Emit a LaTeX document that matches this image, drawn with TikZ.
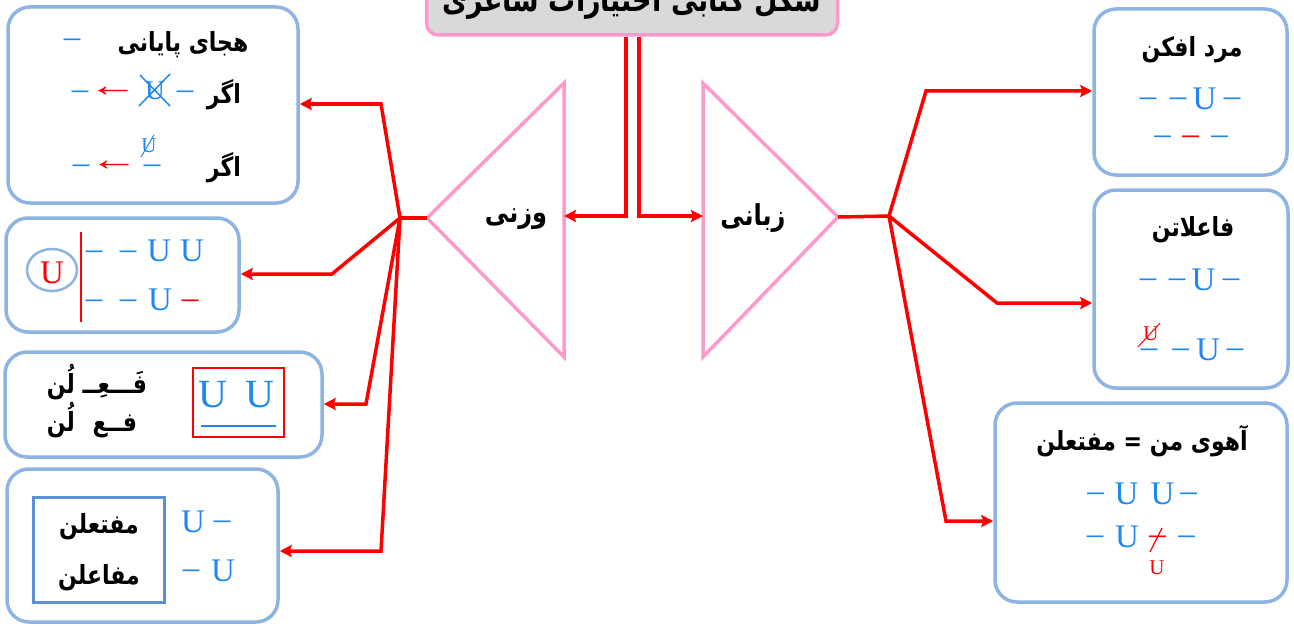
\documentclass[tikz,border=0pt]{standalone}
\usepackage{fontspec}
\setmainfont{Liberation Serif}
\newfontfamily\fa[Script=Arabic]{DejaVu Sans}
\TeXXeTstate=1
\usetikzlibrary{arrows.meta,shapes.geometric}
\definecolor{bbox}{HTML}{8DB4E2}
\definecolor{pinkc}{HTML}{FF99CC}
\definecolor{symb}{HTML}{1E88F0}
\definecolor{inbox}{HTML}{5B8FD6}
\definecolor{titlefill}{HTML}{D9D9D9}
\newcommand\sdash{\raisebox{0.11em}{–}\vphantom{U}}
\newcommand\fatext[1]{\scalebox{1}[1.2]{\fa\bfseries\beginR #1\endR}}
\newcommand\larr{\scalebox{1.5}[1]{←}}
\begin{document}
\begin{tikzpicture}[x=1pt,y=-1pt,
 box/.style={draw=bbox,line width=3.5pt,rounded corners=22pt,fill=white,inner sep=0pt},
 tri/.style={draw=pinkc,line width=3.5pt},
 conn/.style={draw=red,line width=3.5pt},
 arr/.style={conn,-{Stealth[length=12pt,width=12pt,inset=2pt]}},
 fat/.style={font=\fa\bfseries\fontsize{22}{26}\selectfont,inner sep=0pt},
 big/.style={font=\fa\bfseries\fontsize{24}{28}\selectfont,inner sep=0pt},
 ttl/.style={font=\fa\bfseries\fontsize{27}{32}\selectfont,inner sep=0pt,anchor=base},
 sy/.style={font=\fontsize{33}{33}\selectfont,text=symb,inner sep=0pt},
 sm/.style={font=\fontsize{21}{21}\selectfont,inner sep=0pt}
]
\useasboundingbox (0,0) rectangle (1294,626);

% title
\node[draw=pinkc,line width=3.5pt,fill=titlefill,rounded corners=12pt,minimum width=411pt,minimum height=70pt,inner sep=0pt] (title) at (632,0) {};
\node[ttl] (titletext) at (632,12) {\fatext{شکل کتابی اختیارات شاعری}};

% triangles
\coordinate (la) at (427,218); \coordinate (lb) at (564,83); \coordinate (lc) at (564,357);
\draw[tri] (la) -- (lb) -- (lc) -- cycle;
\node[big] (vazni) at (516,219) {\fatext{وزنی}};
\coordinate (ra) at (838,217); \coordinate (rb) at (703,83); \coordinate (rc) at (703,357);
\draw[tri] (ra) -- (rb) -- (rc) -- cycle;
\node[big] (zabani) at (753,218) {\fatext{زبانی}};
\coordinate (lm) at (564,216); \coordinate (rm) at (703,216);

\draw[arr] (title.south -| 626,0) -- (626,216) -- (lm);
\draw[arr] (title.south -| 639,0) -- (639,216) -- (rm);

% boxes
\node[box,minimum width=290pt,minimum height=196pt] (b1) at (153,105) {};
\node[box,minimum width=233pt,minimum height=114pt] (b2) at (122.5,275) {};
\node[box,minimum width=317pt,minimum height=105pt] (b3) at (163.5,404.5) {};
\node[box,minimum width=271pt,minimum height=153pt] (b4) at (142.5,545.5) {};
\node[box,minimum width=193pt,minimum height=166pt] (r1) at (1190.5,92) {};
\node[box,minimum width=194pt,minimum height=198pt] (r2) at (1191,289) {};
\node[box,minimum width=292pt,minimum height=199pt] (r3) at (1141,502.5) {};

% hubs and connectors
\coordinate (hl) at (400,218);
\draw[conn] (la) -- (hl);
\draw[arr] (hl) -- (381,104) -- (b1.east |- 0,104);
\draw[arr] (hl) -- (332,274) -- (b2.east |- 0,274);
\draw[arr] (hl) -- (366,404) -- (b3.east |- 0,404);
\draw[arr] (hl) -- (381,551) -- (b4.east |- 0,551);
\coordinate (hr) at (889,216);
\draw[conn] (ra) -- (hr);
\draw[arr] (hr) -- (926,91) -- (r1.west |- 0,91);
\draw[arr] (hr) -- (997,303) -- (r2.west |- 0,303);
\draw[arr] (hr) -- (946,521) -- (r3.west |- 0,521);

% box 1
\node[sy] (b1d0) at (72,40) {\sdash};
\node[fat] (b1t) at (183,45) {\fatext{هجای پایانی}};
\node[fat] (b1a1) at (224,95) {\fatext{اگر}};
\node[sy] (b1d1) at (185,92) {\sdash};
\node[sy,font=\fontsize{27}{27}\selectfont] (b1u) at (155,91) {U};
\draw[symb,line width=1.5pt] (140,75) -- (170,106) (170,74) -- (139,106);
\node[sy,text=red] (b1ar1) at (113,92) {\larr};
\node[sy] (b1d2) at (80,92) {\sdash};
\node[fat] (b1a2) at (224,168) {\fatext{اگر}};
\node[sy] (b1d3) at (152,166) {\sdash};
\node[sm,text=symb] (b1u2) at (149,146) {U};
\draw[symb,line width=1pt] (141,157) -- (154,135);
\node[sy,text=red] (b1ar2) at (114,166) {\larr};
\node[sy] (b1d4) at (81,166) {\sdash};

% box 2
\node[draw=bbox,line width=2.5pt,ellipse,minimum width=50pt,minimum height=42pt,inner sep=0pt] (b2c) at (52,270) {};
\node[sy,text=red] (b2u) at (52,273) {U};
\draw[red,line width=1.5pt] (81,232) -- (81,322);
\node[sy] (b2d1) at (94,252) {\sdash};
\node[sy] (b2d2) at (128,252) {\sdash};
\node[sy] (b2u1) at (159,251) {U};
\node[sy] (b2u2) at (192,251) {U};
\node[sy] (b2d3) at (94,301) {\sdash};
\node[sy] (b2d4) at (128,301) {\sdash};
\node[sy] (b2u3) at (160,300) {U};
\node[sy,text=red] (b2d5) at (190,301) {\sdash};

% box 3
\node[draw=red,line width=1.5pt,minimum width=91pt,minimum height=69pt,inner sep=0pt] (b3r) at (238.5,402.5) {};
\node[sy,font=\fontsize{40}{40}\selectfont] (b3u1) at (213,395) {U};
\node[sy,font=\fontsize{40}{40}\selectfont] (b3u2) at (260,395) {U};
\draw[symb,line width=2pt] (201,426) -- (276,426);
\node[fat] (b3l1) at (97,382) {\fatext{فَـــعِــ لُن}};
\node[fat] (b3l2) at (92,420) {\fatext{فــع\hspace{0.8em}لُن}};

% box 4
\node[draw=inbox,line width=3pt,minimum width=131pt,minimum height=105pt,inner sep=0pt] (b4r) at (98.5,549.5) {};
\node[fat] (b4t1) at (99,527) {\fatext{مفتعلن}};
\node[fat] (b4t2) at (99,578) {\fatext{مفاعلن}};
\node[sy] (b4u1) at (193,522) {U};
\node[sy] (b4d1) at (222,522) {\sdash};
\node[sy] (b4d2) at (191,571) {\sdash};
\node[sy] (b4u2) at (223,571) {U};

% right box 1
\node[fat] (r1t) at (1192,50) {\fatext{مرد افکن}};
\node[sy] (r1d1) at (1148,99) {\sdash};
\node[sy] (r1d2) at (1178,99) {\sdash};
\node[sy] (r1u1) at (1204.5,99) {U};
\node[sy] (r1d3) at (1232,99) {\sdash};
\node[sy] (r1d4) at (1162.5,137) {\sdash};
\node[sy,text=red] (r1d5) at (1190.5,137) {\sdash};
\node[sy] (r1d6) at (1219.5,137) {\sdash};

% right box 2
\node[fat] (r2t) at (1193,230) {\fatext{فاعلاتن}};
\node[sy] (r2d1) at (1148,280) {\sdash};
\node[sy] (r2d2) at (1177,280) {\sdash};
\node[sy] (r2u1) at (1203.5,280) {U};
\node[sy] (r2d3) at (1231,280) {\sdash};
\node[sy] (r2d4) at (1149,350) {\sdash};
\node[sm,text=red] (r2u2) at (1151,334) {U};
\draw[red,line width=1pt] (1138,347) -- (1160,323);
\node[sy] (r2d5) at (1180.5,350) {\sdash};
\node[sy] (r2u3) at (1208,350) {U};
\node[sy] (r2d6) at (1235,350) {\sdash};

% right box 3
\node[fat] (r3t) at (1142,441) {\fatext{آهوی من = مفتعلن}};
\node[sy] (r3d1) at (1095.5,494) {\sdash};
\node[sy] (r3u1) at (1126.5,494) {U};
\node[sy] (r3u2) at (1162.5,494) {U};
\node[sy] (r3d2) at (1188.5,494) {\sdash};
\node[sy] (r3d3) at (1095,537) {\sdash};
\node[sy] (r3u3) at (1127,537) {U};
\node[sy,text=red] (r3d4) at (1157.5,537) {\sdash};
\draw[red,line width=1.2pt] (1150,552) -- (1162,528);
\node[sy] (r3d5) at (1186.5,537) {\sdash};
\node[sm,text=red] (r3u4) at (1157,567.5) {U};
\end{tikzpicture}
\end{document}
